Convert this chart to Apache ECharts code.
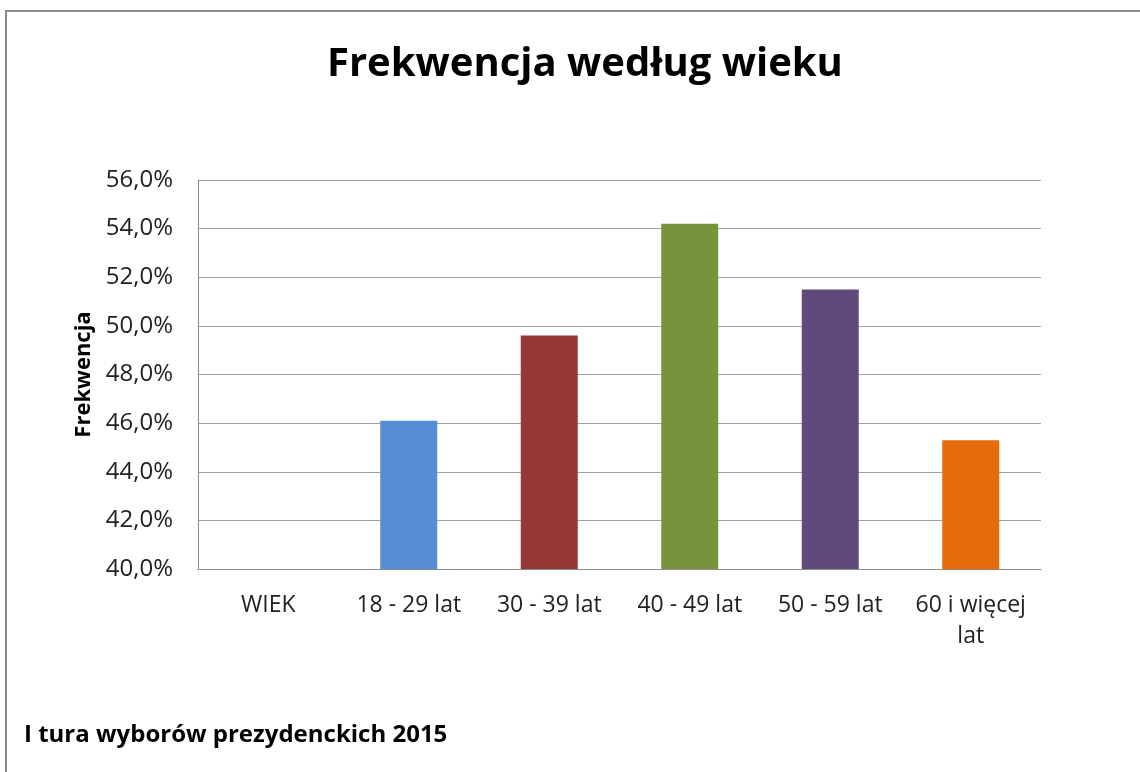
<!DOCTYPE html>
<html>
<head>
    <meta charset="utf-8">
    <title>Frekwencja według wieku</title>
    <script src="https://cdn.jsdelivr.net/npm/echarts@6/dist/echarts.min.js"></script>
    <style>
        html, body { margin: 0; padding: 0; background: #fff; }
    </style>
</head>
<body>
    <div id="main" style="width: 1140px;height:772px;"></div>
    <script type="text/javascript">
        // kategorie wieku
        var categories = ['WIEK', '18 - 29 lat', '30 - 39 lat', '40 - 49 lat', '50 - 59 lat', '60 i więcej\nlat'];
        // frekwencja w %
        var turnout = [null, 46.1, 49.6, 54.2, 51.5, 45.3];
        var barColors = ['#558ed5', '#558ed5', '#953735', '#77933c', '#604a7b', '#e46c0a'];
        var yTicks = [40, 42, 44, 46, 48, 50, 52, 54, 56];

        var font = '"Open Sans", "Noto Sans", sans-serif';
        var myChart = echarts.init(document.getElementById('main'));
        myChart.setOption({
            animation: false,
            textStyle: { fontFamily: font },
            title: {
                text: 'Frekwencja według wieku',
                left: 322,
                top: 40,
                textStyle: { fontSize: 40, fontWeight: 'bold', color: '#000', fontFamily: font }
            },
            graphic: [
                {
                    type: 'rect',
                    shape: { x: 6, y: 11, width: 1200, height: 800 },
                    style: { fill: 'none', stroke: '#8c8c8c', lineWidth: 2 },
                    silent: true
                },
                {
                    type: 'text',
                    left: 24,
                    top: 723,
                    style: { text: 'I tura wyborów prezydenckich 2015', fontSize: 24, fontWeight: 'bold', fill: '#000', fontFamily: font }
                }
            ],
            grid: { left: 198, right: 99, top: 180, bottom: 203 },
            xAxis: {
                type: 'category',
                data: categories,
                axisLine: { lineStyle: { color: '#8c8c8c', width: 1 } },
                axisTick: { show: false },
                axisLabel: { fontSize: 23, color: '#222', margin: 21, lineHeight: 31, interval: 0 }
            },
            yAxis: {
                type: 'value',
                min: yTicks[0],
                max: yTicks[yTicks.length - 1],
                interval: 2,
                name: 'Frekwencja',
                nameLocation: 'middle',
                nameGap: 102,
                nameTextStyle: { fontSize: 22, fontWeight: 'bold', color: '#000' },
                axisLine: { show: true, lineStyle: { color: '#8c8c8c', width: 1 } },
                axisTick: { show: false },
                splitLine: { lineStyle: { color: '#a0a0a0', width: 1 } },
                axisLabel: {
                    fontSize: 24, color: '#222', margin: 25,
                    formatter: function (v) { return v.toFixed(1).replace('.', ',') + '%'; }
                }
            },
            series: [{
                type: 'bar',
                barWidth: 57,
                data: turnout.map(function (v, i) {
                    return { value: v, itemStyle: { color: barColors[i] } };
                })
            }]
        });
    </script>
</body>
</html>
